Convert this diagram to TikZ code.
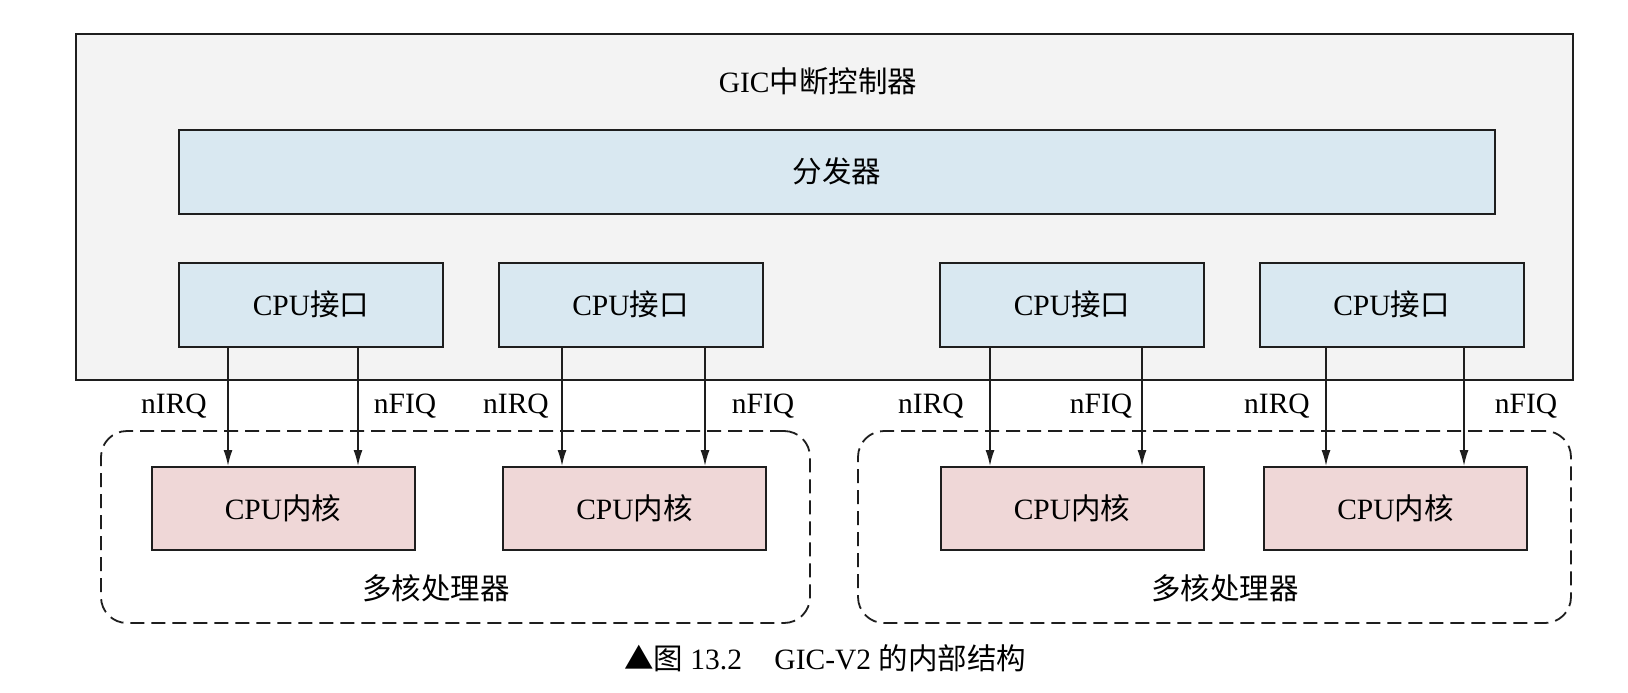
\documentclass[tikz,border=0pt]{standalone}
\usepackage{fontspec}
\setmainfont{Liberation Serif}
\newfontfamily\cjk{Noto Sans CJK SC}
\usetikzlibrary{arrows.meta}
\definecolor{gicfill}{HTML}{F3F3F3}
\definecolor{bluefill}{HTML}{D9E8F1}
\definecolor{pinkfill}{HTML}{EFD7D7}
\definecolor{edge}{HTML}{1E1E1E}
\begin{document}
\begin{tikzpicture}[x=1pt,y=-1pt,
  every node/.style={font=\fontsize{29.5}{34}\selectfont, inner sep=0pt},
  outerbox/.style={draw=edge, line width=2pt, fill=gicfill, minimum width=1497pt, minimum height=346pt},
  bluebox/.style={draw=edge, line width=2pt, fill=bluefill, minimum height=84pt},
  corebox/.style={draw=edge, line width=2pt, fill=pinkfill, minimum width=263pt, minimum height=83pt},
  groupbox/.style={draw=edge, line width=1.8pt, dash pattern=on 14pt off 7pt, rounded corners=26pt, minimum height=192pt},
  arr/.style={draw=edge, line width=1.6pt, -{Latex[length=16pt,width=9pt]}},
  sig/.style={font=\fontsize{29.5}{34}\selectfont}
]
\useasboundingbox (0,0) rectangle (1628,693);
\fill[white] (0,0) rectangle (1628,693);

% GIC controller
\node[outerbox] (gic) at (824.5,207) {};
\node (title) at (818,81) {GIC{\cjk 中断控制器}};
\node[bluebox, minimum width=1316pt] (dist) at (837,171.5) {{\cjk 分发器}};

% CPU interfaces
\node[bluebox, minimum width=264pt] (if1) at (311,304.5) {CPU{\cjk 接口}};
\node[bluebox, minimum width=264pt] (if2) at (630.5,304.5) {CPU{\cjk 接口}};
\node[bluebox, minimum width=264pt] (if3) at (1072,304.5) {CPU{\cjk 接口}};
\node[bluebox, minimum width=264pt] (if4) at (1391.5,304.5) {CPU{\cjk 接口}};

% multicore groups
\node[groupbox, minimum width=709pt] (mp1) at (455.5,527) {};
\node[groupbox, minimum width=713pt] (mp2) at (1214.5,527) {};
\node (mp1label) at (436,588) {{\cjk 多核处理器}};
\node (mp2label) at (1225,588) {{\cjk 多核处理器}};

% CPU cores
\node[corebox] (core1) at (283,508.5) {CPU{\cjk 内核}};
\node[corebox] (core2) at (634.5,508.5) {CPU{\cjk 内核}};
\node[corebox] (core3) at (1072,508.5) {CPU{\cjk 内核}};
\node[corebox] (core4) at (1395.5,508.5) {CPU{\cjk 内核}};

% signals
\draw[arr] ([xshift=-83pt]if1.south) -- ([xshift=-55pt]core1.north);
\draw[arr] ([xshift=47pt]if1.south) -- ([xshift=75pt]core1.north);
\draw[arr] ([xshift=-68.5pt]if2.south) -- ([xshift=-72.5pt]core2.north);
\draw[arr] ([xshift=74.5pt]if2.south) -- ([xshift=70.5pt]core2.north);
\draw[arr] ([xshift=-82pt]if3.south) -- ([xshift=-82pt]core3.north);
\draw[arr] ([xshift=70pt]if3.south) -- ([xshift=70pt]core3.north);
\draw[arr] ([xshift=-65.5pt]if4.south) -- ([xshift=-69.5pt]core4.north);
\draw[arr] ([xshift=72.5pt]if4.south) -- ([xshift=68.5pt]core4.north);

\node[sig] (l1) at (174,406) {nIRQ};
\node[sig] (l2) at (405,406) {nFIQ};
\node[sig] (l3) at (516,406) {nIRQ};
\node[sig] (l4) at (763,406) {nFIQ};
\node[sig] (l5) at (931,406) {nIRQ};
\node[sig] (l6) at (1101,406) {nFIQ};
\node[sig] (l7) at (1277,406) {nIRQ};
\node[sig] (l8) at (1526,406) {nFIQ};

% caption
\node (caption) at (825,658) {{\cjk ▲图} 13.2\hspace{1.1em}GIC-V2 {\cjk 的内部结构}};
\end{tikzpicture}
\end{document}
